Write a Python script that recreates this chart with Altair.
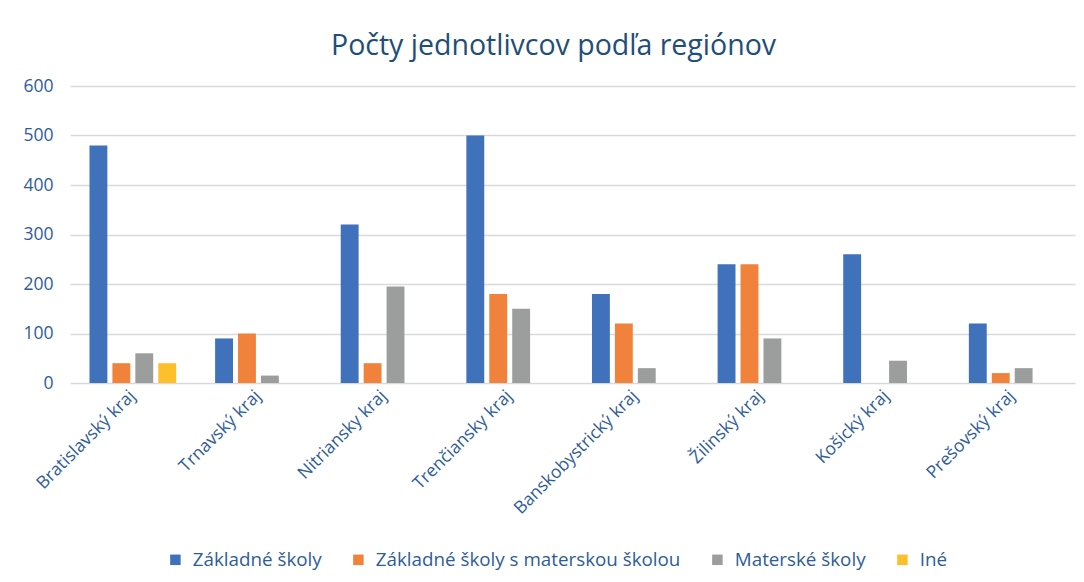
import altair as alt
import pandas as pd

regions = ["Bratislavský kraj", "Trnavský kraj", "Nitriansky kraj", "Trenčiansky kraj",
           "Banskobystrický kraj", "Žilinský kraj", "Košický kraj", "Prešovský kraj"]
series = ["Základné školy", "Základné školy s materskou školou", "Materské školy", "Iné"]
zakladne = [480, 90, 320, 500, 180, 240, 260, 120]
zakladne_ms = [40, 100, 40, 180, 120, 240, 0, 20]
materske = [60, 15, 195, 150, 30, 90, 45, 30]
ine = [40, 0, 0, 0, 0, 0, 0, 0]
colors = ["#3F72BA", "#F0823C", "#9C9E9E", "#FDBF2C"]

rows = []
for s, vals in zip(series, [zakladne, zakladne_ms, materske, ine]):
    for r, v in zip(regions, vals):
        if v > 0:
            rows.append({"kraj": r, "typ": s, "pocet": v})
df = pd.DataFrame(rows)

label_color = "#2E5C9A"
font = "Open Sans"

chart = alt.Chart(df).mark_bar().encode(
    x=alt.X("kraj:N", sort=regions, title=None,
            scale=alt.Scale(paddingInner=0.27, paddingOuter=0.135),
            axis=alt.Axis(labelAngle=-45, labelAlign="right", labelBaseline="middle",
                          labelFontSize=17.5, labelColor=label_color, labelFont=font,
                          ticks=False, domain=False, labelPadding=10, labelLimit=300)),
    xOffset=alt.XOffset("typ:N", sort=series,
                        scale=alt.Scale(domain=series, paddingInner=0.22, paddingOuter=0.11)),
    y=alt.Y("pocet:Q", title=None,
            scale=alt.Scale(domain=[0, 600], nice=False),
            axis=alt.Axis(values=[0, 100, 200, 300, 400, 500, 600], labelFontSize=17.5,
                          labelColor=label_color, labelFont=font, ticks=False, domain=False,
                          labelPadding=17, gridColor="#D9D9D9", gridWidth=1.5)),
    color=alt.Color("typ:N", sort=series,
                    scale=alt.Scale(domain=series, range=colors),
                    legend=alt.Legend(title=None, orient="none", direction="horizontal",
                                      legendX=96, legendY=464, symbolType="square",
                                      symbolSize=110, symbolStrokeWidth=0,
                                      labelFontSize=18.8, labelColor=label_color, labelFont=font,
                                      columnPadding=27, labelOffset=8, labelLimit=0)),
).properties(
    width=1005, height=297,
    title=alt.TitleParams("Počty jednotlivcov podľa regiónov", fontSize=28.5,
                          font=font, fontWeight="normal", color="#1F4E79",
                          anchor="middle", dx=-19, offset=17),
    autosize=alt.AutoSizeParams(type="none"),
    padding={"left": 62, "top": 78, "right": 1, "bottom": 190},
).configure_view(stroke=None)

chart.save("out.html", embed_options={"renderer": "svg", "actions": False})
